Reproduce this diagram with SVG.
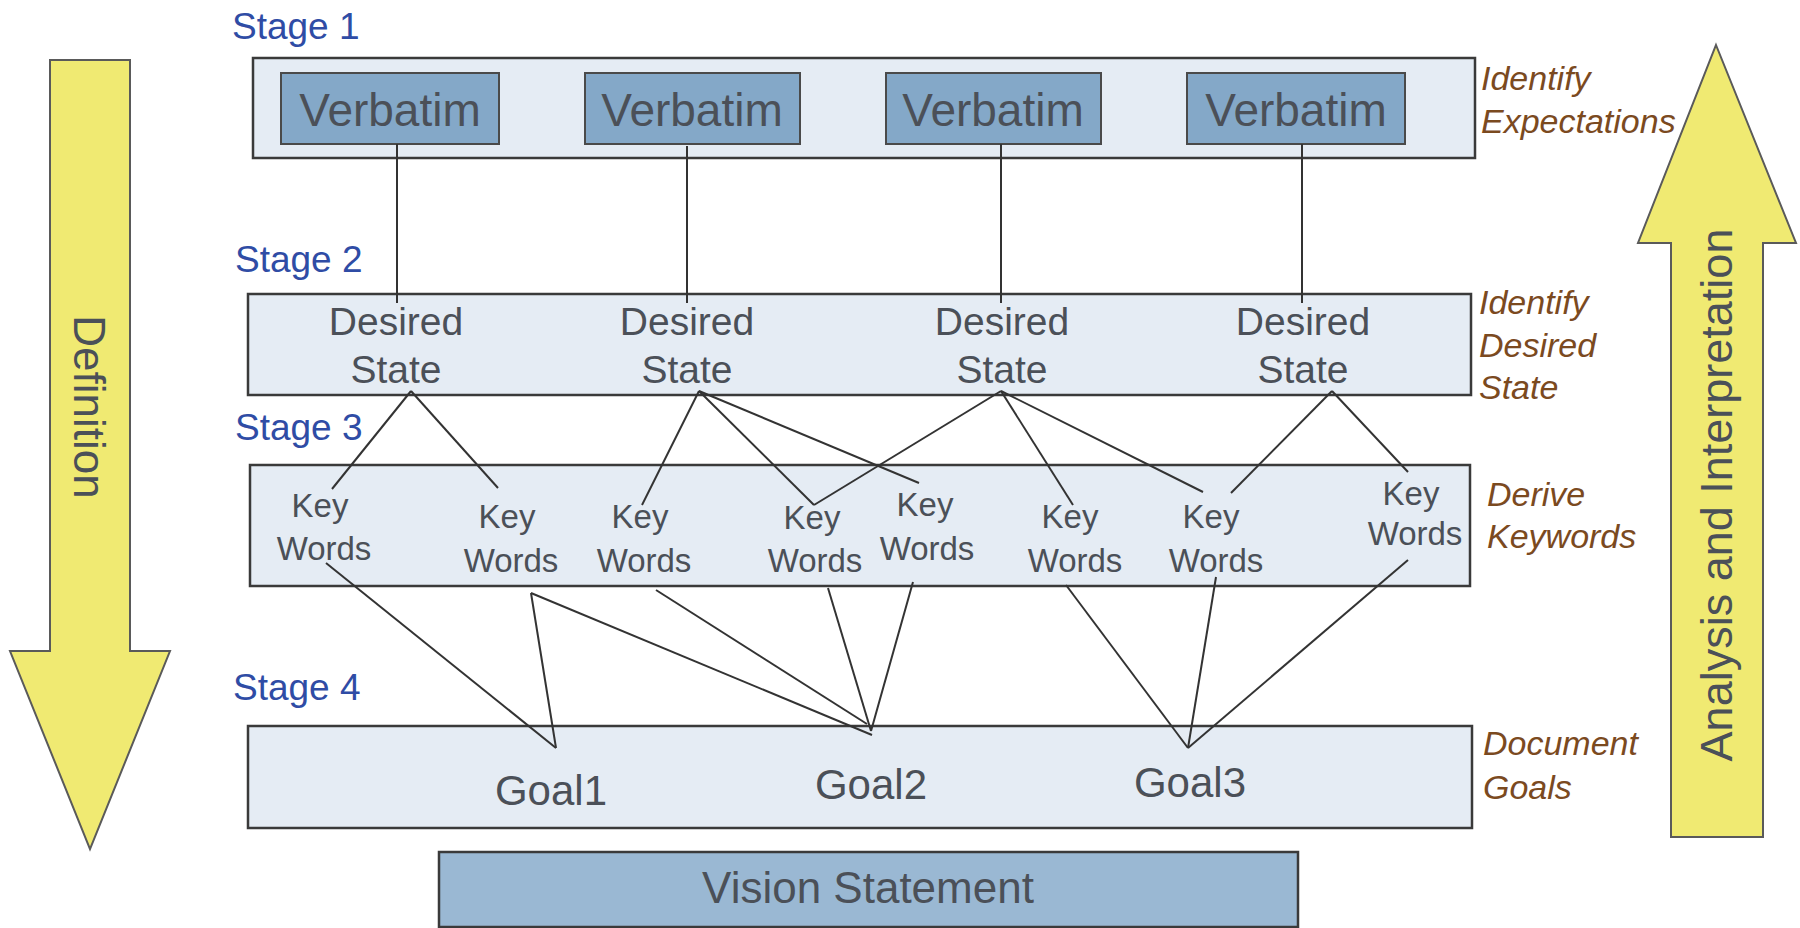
<svg xmlns="http://www.w3.org/2000/svg" width="1800" height="928" viewBox="0 0 1800 928">
<style>
text{font-family:"Liberation Sans",Arial,sans-serif}
.stage{fill:#e5ecf4;stroke:#3a3a3a;stroke-width:2.5}
.verb{fill:#84a8c8;stroke:#4a4a4a;stroke-width:2}
.vis{fill:#9ab8d3;stroke:#3a3a3a;stroke-width:2.5}
.arrow{fill:#f0ea72;stroke:#5a5a5a;stroke-width:2}
.t{fill:#4b5058}
.lbl{fill:#2f4ca5;font-size:37px}
.note{fill:#7b4a1f;font-size:34px;font-style:italic}
.vt{font-size:46px;text-anchor:middle}
.ds{font-size:39px;text-anchor:middle}
.kw{font-size:33px;text-anchor:middle}
.goal{font-size:42px;text-anchor:middle}
.conn line{stroke:#333;stroke-width:2}
</style>

<g id="arrow-definition">
<polygon class="arrow" points="50,60 130,60 130,651 170,651 90,849 10,651 50,651"/>
<text class="t" font-size="44" text-anchor="middle" fill="#333" transform="translate(74,407) rotate(90)">Definition</text>
</g>
<g id="arrow-analysis">
<polygon class="arrow" points="1716,45 1796,243 1763,243 1763,837 1671,837 1671,243 1638,243"/>
<text class="t" font-size="45" text-anchor="middle" transform="translate(1732,495) rotate(-90)">Analysis and Interpretation</text>
</g>

<g id="stage1">
<rect class="stage" x="253" y="58" width="1222" height="100"/>
<text class="lbl" x="232" y="39">Stage 1</text>
<text class="note" x="1481" y="90">Identify</text>
<text class="note" x="1481" y="133">Expectations</text>
</g>
<g id="stage2">
<rect class="stage" x="248" y="294" width="1223" height="101"/>
<text class="lbl" x="235" y="272">Stage 2</text>
<text class="note" x="1479" y="314">Identify</text>
<text class="note" x="1479" y="357">Desired</text>
<text class="note" x="1479" y="399">State</text>
</g>
<g id="stage3">
<rect class="stage" x="250" y="465" width="1220" height="121"/>
<text class="lbl" x="235" y="440">Stage 3</text>
<text class="note" x="1487" y="506">Derive</text>
<text class="note" x="1487" y="548">Keywords</text>
</g>
<g id="stage4">
<rect class="stage" x="248" y="726" width="1224" height="102"/>
<text class="lbl" x="233" y="700">Stage 4</text>
<text class="note" x="1483" y="755">Document</text>
<text class="note" x="1483" y="799">Goals</text>
</g>

<g id="verbatim1"><rect class="verb" x="281" y="73" width="218" height="71"/><text class="t vt" x="390" y="126">Verbatim</text></g>
<g id="verbatim2"><rect class="verb" x="585" y="73" width="215" height="71"/><text class="t vt" x="692" y="126">Verbatim</text></g>
<g id="verbatim3"><rect class="verb" x="886" y="73" width="215" height="71"/><text class="t vt" x="993" y="126">Verbatim</text></g>
<g id="verbatim4"><rect class="verb" x="1187" y="73" width="218" height="71"/><text class="t vt" x="1296" y="126">Verbatim</text></g>

<g id="desired1"><text class="t ds" x="396" y="335">Desired</text><text class="t ds" x="396" y="383">State</text></g>
<g id="desired2"><text class="t ds" x="687" y="335">Desired</text><text class="t ds" x="687" y="383">State</text></g>
<g id="desired3"><text class="t ds" x="1002" y="335">Desired</text><text class="t ds" x="1002" y="383">State</text></g>
<g id="desired4"><text class="t ds" x="1303" y="335">Desired</text><text class="t ds" x="1303" y="383">State</text></g>

<g id="kw1"><text class="t kw" x="320" y="517">Key</text><text class="t kw" x="324" y="560">Words</text></g>
<g id="kw2"><text class="t kw" x="507" y="528">Key</text><text class="t kw" x="511" y="572">Words</text></g>
<g id="kw3"><text class="t kw" x="640" y="528">Key</text><text class="t kw" x="644" y="572">Words</text></g>
<g id="kw4"><text class="t kw" x="812" y="529">Key</text><text class="t kw" x="815" y="572">Words</text></g>
<g id="kw5"><text class="t kw" x="925" y="516">Key</text><text class="t kw" x="927" y="560">Words</text></g>
<g id="kw6"><text class="t kw" x="1070" y="528">Key</text><text class="t kw" x="1075" y="572">Words</text></g>
<g id="kw7"><text class="t kw" x="1211" y="528">Key</text><text class="t kw" x="1216" y="572">Words</text></g>
<g id="kw8"><text class="t kw" x="1411" y="505">Key</text><text class="t kw" x="1415" y="545">Words</text></g>

<g id="goal1"><text class="t goal" x="551" y="805">Goal1</text></g>
<g id="goal2"><text class="t goal" x="871" y="799">Goal2</text></g>
<g id="goal3"><text class="t goal" x="1190" y="797">Goal3</text></g>

<g id="vision"><rect class="vis" x="439" y="852" width="859" height="75"/><text class="t" x="868" y="903" font-size="44" text-anchor="middle">Vision Statement</text></g>

<g id="connectors" class="conn">
<line x1="397" y1="144" x2="397" y2="303"/>
<line x1="687" y1="146" x2="687" y2="303"/>
<line x1="1001" y1="144" x2="1001" y2="303"/>
<line x1="1302" y1="144" x2="1302" y2="303"/>
<line x1="411" y1="391" x2="332" y2="489"/>
<line x1="411" y1="391" x2="498" y2="488"/>
<line x1="699" y1="391" x2="642" y2="505"/>
<line x1="699" y1="391" x2="814" y2="505"/>
<line x1="699" y1="391" x2="919" y2="483"/>
<line x1="1001" y1="391" x2="814" y2="505"/>
<line x1="1001" y1="391" x2="1073" y2="505"/>
<line x1="1001" y1="391" x2="1203" y2="492"/>
<line x1="1332" y1="391" x2="1231" y2="493"/>
<line x1="1332" y1="391" x2="1408" y2="472"/>
<line x1="326" y1="563" x2="556" y2="748"/>
<line x1="531" y1="593" x2="556" y2="748"/>
<line x1="531" y1="593" x2="872" y2="735"/>
<line x1="656" y1="590" x2="867" y2="724"/>
<line x1="828" y1="588" x2="871" y2="731"/>
<line x1="913" y1="582" x2="871" y2="731"/>
<line x1="1066" y1="585" x2="1188" y2="748"/>
<line x1="1216" y1="577" x2="1188" y2="748"/>
<line x1="1408" y1="560" x2="1188" y2="748"/>
</g>
</svg>
